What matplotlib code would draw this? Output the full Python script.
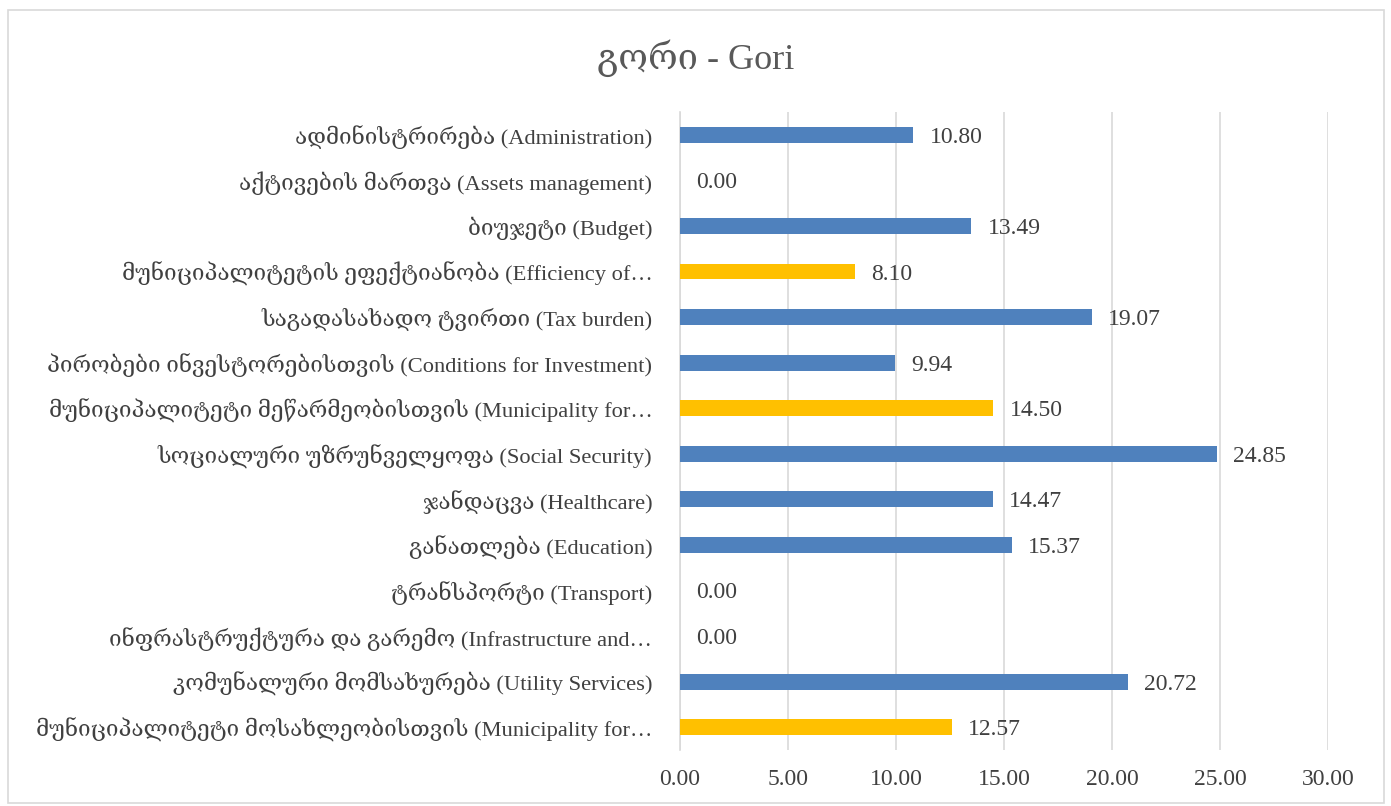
import numpy as np
import matplotlib.pyplot as plt
import matplotlib.patches as patches

# data, top to bottom as in the chart
labels = [
    "ადმინისტრირება (Administration)",
    "აქტივების მართვა (Assets management)",
    "ბიუჯეტი (Budget)",
    "მუნიციპალიტეტის ეფექტიანობა (Efficiency of…",
    "საგადასახადო ტვირთი (Tax burden)",
    "პირობები ინვესტორებისთვის (Conditions for Investment)",
    "მუნიციპალიტეტი მეწარმეობისთვის (Municipality for…",
    "სოციალური უზრუნველყოფა (Social Security)",
    "ჯანდაცვა (Healthcare)",
    "განათლება (Education)",
    "ტრანსპორტი (Transport)",
    "ინფრასტრუქტურა და გარემო (Infrastructure and…",
    "კომუნალური მომსახურება (Utility Services)",
    "მუნიციპალიტეტი მოსახლეობისთვის (Municipality for…",
]
values = [10.80, 0.00, 13.49, 8.10, 19.07, 9.94, 14.50, 24.85, 14.47, 15.37, 0.00, 0.00, 20.72, 12.57]
highlight = [False, False, False, True, False, False, True, False, False, False, False, False, False, True]
xticks = [0, 5, 10, 15, 20, 25, 30]

blue = "#4F81BD"
yellow = "#FFC000"
text_col = "#404040"
fonts = ["Liberation Serif", "DejaVu Serif"]

fig = plt.figure(figsize=(13.91, 8.06), dpi=100)
ax = fig.add_axes([0.4889, 0.0695, 0.4658, 0.7915])

# outer frame of the chart
fig.patches.append(patches.Rectangle((0.006, 0.004), 0.989, 0.983, transform=fig.transFigure,
                                     fill=False, edgecolor="#D9D9D9", linewidth=1.2))

y = np.arange(len(labels))
colors = [yellow if h else blue for h in highlight]
ax.barh(y, values, height=0.35, color=colors, zorder=3)

for yi, v in zip(y, values):
    ax.text(v + 0.75, yi, f"{v:.2f}", va="center_baseline", ha="left", fontsize=17,
            color=text_col, family=fonts)

ax.set_ylim(len(labels) - 0.5, -0.5)
ax.set_xlim(0, 30)
ax.set_xticks(xticks)
ax.set_xticklabels([f"{t:.2f}" for t in xticks], fontsize=17, color=text_col, family=fonts)
ax.set_yticks(y)
ax.set_yticklabels(labels, fontsize=16.2, color=text_col, family=fonts)
ax.tick_params(axis="both", length=0)
ax.tick_params(axis="y", pad=20)
ax.tick_params(axis="x", pad=14)

ax.grid(axis="x", color="#D9D9D9", linewidth=1.2, zorder=0)
for s in ["top", "right", "bottom"]:
    ax.spines[s].set_visible(False)
ax.spines["left"].set_color("#D9D9D9")
ax.spines["left"].set_linewidth(1.2)

fig.text(0.5, 0.928, "გორი - Gori", ha="center", va="center", fontsize=26,
         color="#595959", family=fonts)

fig.savefig("out.png", dpi=100)
